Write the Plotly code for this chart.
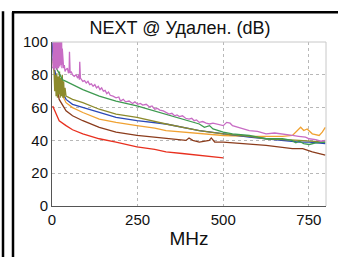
import plotly.graph_objects as go

# ---- data ----
red_x = [2, 12, 21, 41, 60, 90, 138, 187, 248, 300, 333, 380, 430, 470, 500]
red_y = [61, 56, 52, 49, 46.5, 44, 41, 39, 36, 34.5, 33, 32, 31, 30, 29.3]

brown_x = [3, 5, 12, 21, 41, 60, 90, 138, 187, 248, 300, 333, 391, 400, 411, 430, 459, 465, 475, 500, 576, 625, 702, 732, 760, 798]
brown_y = [90, 87, 75, 65, 58, 55, 52, 48, 45, 43, 42, 41, 40, 41.5, 40, 39, 40, 41.5, 39, 39, 38, 37, 35, 35, 33, 31]

orange_x = [3, 5, 17, 41, 60, 90, 138, 187, 248, 300, 333, 430, 500, 576, 673, 702, 716, 726, 735, 745, 760, 780, 789, 798]
orange_y = [88, 85, 73, 63, 60, 57, 53, 51, 49, 47.5, 46, 44, 43, 42.5, 42.5, 43, 46, 48, 46, 47, 44, 43, 45, 48]

blue_x = [0, 2, 5, 17, 41, 60, 90, 138, 187, 248, 300, 333, 430, 500, 576, 625, 722, 751, 798]
blue_y = [100, 95, 85, 75, 65, 62, 60, 57, 54, 52, 51, 50, 46, 44, 42, 41, 39, 39, 38]

olive_x = [5, 8, 10, 12, 14, 16, 18, 20, 22, 24, 26, 28, 30, 32, 34, 36, 38, 41, 60, 90, 138, 187, 248, 333, 430, 500, 576, 625, 722, 798]
olive_y = [87, 70, 80, 67, 81, 66, 79, 68, 82, 66, 78, 67, 80, 66, 76, 66, 72, 67, 65, 63, 59, 56, 54, 50, 46, 44, 42.5, 41, 40, 39]

green_x = [5, 17, 31, 41, 60, 90, 138, 187, 248, 290, 333, 381, 430, 445, 460, 470, 485, 500, 527, 576, 625, 673, 700, 712, 722, 735, 751, 770, 798]
green_y = [87, 82, 77, 76, 74, 71, 67, 64, 61, 58.5, 56, 53, 50, 48, 49, 47, 46, 45, 44, 43, 41, 41, 40, 38.5, 39.5, 38, 37.5, 38.5, 39]

magenta_x = [1, 2, 3, 4, 5, 6, 7, 8, 9, 10, 11, 12, 13, 14, 15, 16, 17, 18, 19, 20, 21, 22, 23, 24, 25,
             26, 27, 28, 29, 30, 32, 34, 36, 38, 40, 45, 48, 50, 51, 53, 56, 60, 65, 70, 75, 78, 80, 81,
             83, 86, 90, 95, 100, 105, 110, 115, 120, 125,
             130, 135, 140, 145, 150, 155, 160, 165, 170, 178, 187, 195, 200, 208, 215, 225, 235, 242,
             250, 258, 265, 275, 284, 292, 300, 308, 315, 325, 333, 342, 350, 358, 365, 372, 381,
             390, 400, 408, 415, 422, 430, 440, 450, 460, 470, 479, 490, 500, 510, 520, 527, 535, 545,
             560, 576, 600, 625, 650, 673, 702, 720, 740, 751, 770, 785, 798]
magenta_y = [85, 105, 84, 105, 86, 105, 83, 105, 88, 105, 84, 105, 90, 105, 83, 105, 87, 105, 84, 105,
             89, 105, 85, 105, 88, 104, 86, 102, 84, 96, 88, 84, 86, 82, 83, 84, 81, 82, 94, 81, 82, 80,
             79, 80, 78, 80, 77, 88, 78, 77, 76, 76.5, 75, 76, 74, 74.5, 73, 74,
             72, 73, 71, 72, 70, 70.5, 68.5, 69.5, 67.5, 67, 66, 66.5, 64, 65, 63.5, 64, 62.5, 63.5,
             62, 62.5, 61.5, 62, 60.5, 61, 59, 59.5, 58.5, 58, 57, 56, 56.5, 55, 55.5, 54.5, 55,
             53.5, 53, 53.5, 52, 52.5, 51, 51.5, 50.5, 50, 50.5, 50, 49.5, 49, 51, 50.5, 49, 48.5, 48,
             47, 46, 45.5, 44, 44.5, 44, 43, 42.5, 42, 41, 40.5, 39.5, 40, 40]

series = [
    ("red", red_x, red_y, "#e8301f"),
    ("brown", brown_x, brown_y, "#8b3c1c"),
    ("orange", orange_x, orange_y, "#f0a232"),
    ("blue", blue_x, blue_y, "#2a48b8"),
    ("olive", olive_x, olive_y, "#8c8a2c"),
    ("green", green_x, green_y, "#3e9a50"),
    ("magenta", magenta_x, magenta_y, "#c86cc4"),
]

x_ticks = [0, 250, 500, 750]
y_ticks = [0, 20, 40, 60, 80, 100]

fig = go.Figure()
for name, xs, ys, col in series:
    fig.add_trace(go.Scatter(x=xs, y=ys, mode="lines", name=name,
                             line=dict(color=col, width=1.3), showlegend=False))

W, H = 338, 257
L, R, T, B = 52, 12, 42, 49
pw, ph = W - L - R, H - T - B

def px_x(p):
    return (p - L) / pw

def px_y(p):
    return (H - B - p) / ph

fig.update_layout(
    width=W, height=H,
    margin=dict(l=L, r=R, t=T, b=B, pad=0),
    paper_bgcolor="white", plot_bgcolor="white",
    font=dict(family="Liberation Sans, Arial, sans-serif", color="#111111"),
    title=dict(text="NEXT @ Удален. (dB)", x=180 / W, xanchor="center",
               y=1 - 28 / H, yanchor="middle", font=dict(size=18)),
    xaxis=dict(range=[0, 800], tickvals=x_ticks, ticktext=[str(v) for v in x_ticks],
               showgrid=True, gridcolor="#b8b8b8", griddash="dot", gridwidth=1,
               showline=True, linecolor="#555555", linewidth=1, zeroline=False,
               ticks="", tickfont=dict(size=15),
               title=dict(text="MHz", font=dict(size=19), standoff=4)),
    yaxis=dict(range=[0, 100], tickvals=y_ticks, ticktext=[str(v) for v in y_ticks],
               showgrid=True, gridcolor="#b8b8b8", griddash="dot", gridwidth=1,
               showline=True, linecolor="#555555", linewidth=1, zeroline=False,
               ticks="", tickfont=dict(size=15)),
    shapes=[
        # light top/right plot borders
        dict(type="line", xref="paper", yref="paper", x0=0, x1=1, y0=1, y1=1,
             line=dict(color="#c8c8c8", width=1)),
        dict(type="line", xref="paper", yref="paper", x0=1, x1=1, y0=0, y1=1,
             line=dict(color="#c8c8c8", width=1)),
        # outer panel frame
        dict(type="line", xref="paper", yref="paper", x0=px_x(3), x1=px_x(3),
             y0=px_y(300), y1=px_y(11), line=dict(color="black", width=2.5)),
        dict(type="line", xref="paper", yref="paper", x0=px_x(13), x1=px_x(13),
             y0=px_y(300), y1=px_y(12), line=dict(color="black", width=2.5)),
        dict(type="line", xref="paper", yref="paper", x0=px_x(12), x1=px_x(360),
             y0=px_y(12), y1=px_y(12), line=dict(color="black", width=2.5)),
    ],
)

fig.write_html("out.html", config={"displayModeBar": False},
               post_script="document.body.style.margin='0';document.body.style.overflow='hidden';")
